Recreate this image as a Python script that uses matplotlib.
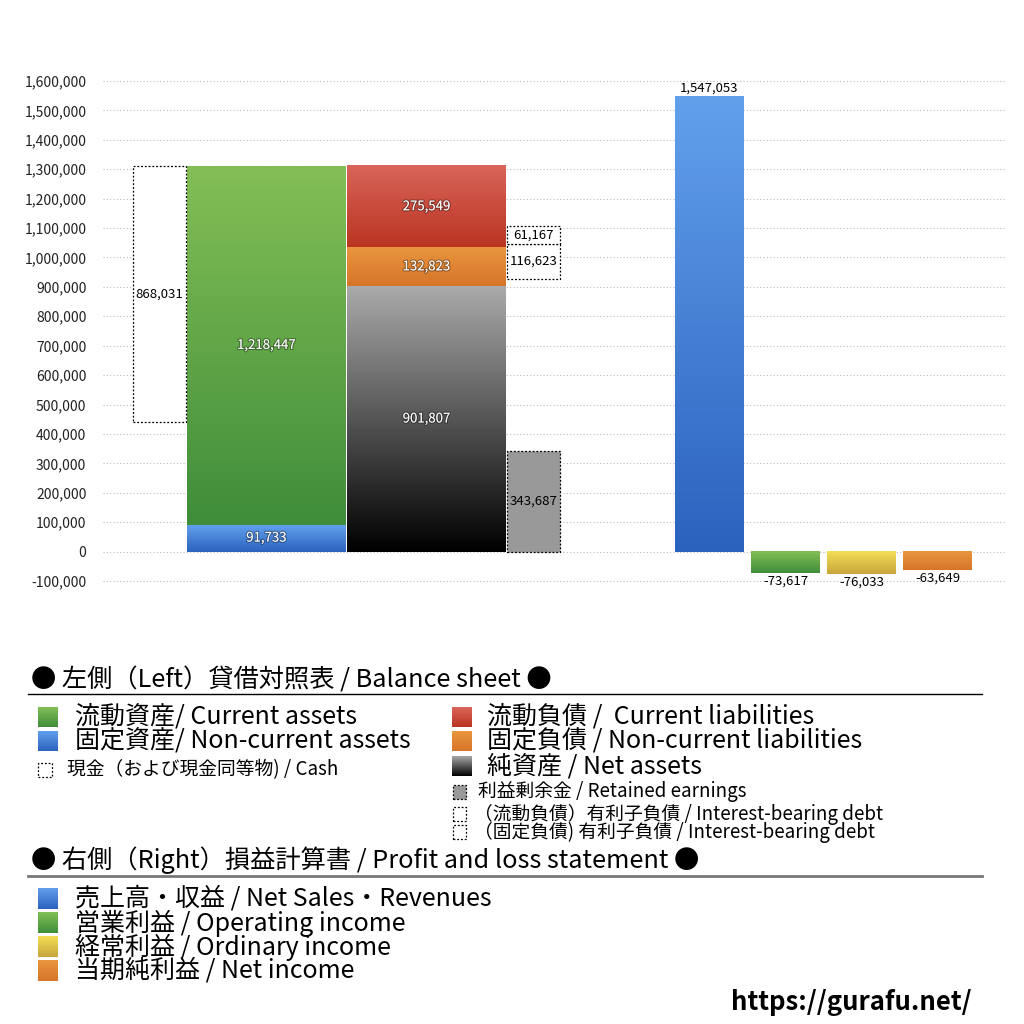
import matplotlib.pyplot as plt
import matplotlib.patheffects as pe
from matplotlib.patches import Rectangle
from matplotlib.colors import to_rgb
import numpy as np

plt.rcParams['font.family'] = ['Noto Sans CJK JP', 'DejaVu Sans']

# --------------------------------------------------
# DATA
# --------------------------------------------------

current_assets = 1218447
noncurrent_assets = 91733
cash = 868031
current_liab = 275549
noncurrent_liab = 132823
net_assets = 901807
retained_earnings = 343687
debt_current = 61167
debt_noncurrent = 116623

pl_values = [1547053, -73617, -76033, -63649]
y_ticks = list(range(-100000, 1600001, 100000))

header_bs = '● 左側（Left）貸借対照表 / Balance sheet ●'
bs_col1 = ['流動資産/ Current assets', '固定資産/ Non-current assets']
cash_label = '現金（および現金同等物) / Cash'
bs_col2 = ['流動負債 /  Current liabilities', '固定負債 / Non-current liabilities',
           '純資産 / Net assets']
bs_small = ['利益剰余金 / Retained earnings',
            '（流動負債）有利子負債 / Interest-bearing debt',
            '（固定負債) 有利子負債 / Interest-bearing debt']
header_pl = '● 右側（Right）損益計算書 / Profit and loss statement ●'
pl_labels = ['売上高・収益 / Net Sales・Revenues', '営業利益 / Operating income',
             '経常利益 / Ordinary income', '当期純利益 / Net income']
site = 'https://gurafu.net/'

# --------------------------------------------------
# STYLE (gradient top, bottom)
# --------------------------------------------------

c_green = ('#84bf56', '#3f8d3a')
c_blue = ('#62a0ec', '#2b62be')
c_red = ('#d9655a', '#ba3421')
c_orange = ('#e9963f', '#d6752a')
c_gray = ('#aaaaaa', '#000000')
c_yellow = ('#f3df56', '#c8a53c')
c_retained = '#999999'
pl_colors = [c_blue, c_green, c_yellow, c_orange]

DOT = (0, (1.5, 1.5))


def grad(ax, x0, x1, y0, y1, colors, z=2):
    top, bot = np.array(to_rgb(colors[0])), np.array(to_rgb(colors[1]))
    t = np.linspace(0, 1, 256)[:, None, None]
    img = bot + (top - bot) * t
    ax.imshow(img, extent=(x0, x1, y0, y1), origin='lower', aspect='auto',
              interpolation='bilinear', zorder=z)


def dashed_box(ax, x0, x1, y0, y1, face='white', z=3):
    ax.add_patch(Rectangle((x0, y0), x1 - x0, y1 - y0, facecolor=face,
                           edgecolor='black', lw=0.9, linestyle=DOT, zorder=z))


shadow = [pe.withStroke(linewidth=1.6, foreground=(0, 0, 0, 0.35))]

fig = plt.figure(figsize=(10.24, 10.24), dpi=100)

# --------------------------------------------------
# OVERLAY (legend, pixel coords)
# --------------------------------------------------

ov = fig.add_axes([0, 0, 1, 1])
ov.axis('off')

big = 18
head = 18.2
small = 13.5
ov.text(31, 680, header_bs, fontsize=head, va='center', ha='left')
ov.plot([28, 982], [694, 694], color='black', lw=1)

for i, (lab, col) in enumerate(zip(bs_col1, [c_green, c_blue])):
    yc = 717 + 24 * i
    grad(ov, 38, 58, yc + 10, yc - 10, col)
    ov.text(75, yc, lab, fontsize=big, va='center')
dashed_box(ov, 38, 52, 777, 763)
ov.text(67, 770, cash_label, fontsize=small, va='center')

for i, (lab, col) in enumerate(zip(bs_col2, [c_red, c_orange, c_gray])):
    yc = 717 + 24.5 * i
    grad(ov, 452, 472, yc + 10, yc - 10, col)
    ov.text(487, yc, lab, fontsize=big, va='center')

dashed_box(ov, 453, 466, 799, 785, face=c_retained)
for i, lab in enumerate(bs_small):
    yc = [792, 814, 832][i]
    if i > 0:
        dashed_box(ov, 453, 466, yc + 7, yc - 7)
    ov.text(474 if i > 0 else 478, yc, lab, fontsize=small, va='center')

ov.text(31, 860, header_pl, fontsize=head, va='center', ha='left')
ov.plot([28, 982], [876, 876], color='#777777', lw=2)

for i, (lab, col) in enumerate(zip(pl_labels, pl_colors)):
    yc = 899 + 24 * i
    grad(ov, 38, 58, yc + 10.5, yc - 10.5, col)
    ov.text(75, yc, lab, fontsize=big, va='center')

ov.text(972, 1003, site, fontsize=18.5, fontweight='bold', ha='right', va='center')

ov.set_xlim(0, 1024)
ov.set_ylim(1024, 0)

# --------------------------------------------------
# MAIN CHART (x in pixel units)
# --------------------------------------------------

ymin, ymax = -110000, 1620000
s = 500 / 1700000.0
px_top = 81 - (ymax - 1600000) * s
px_bot = 581 + (-100000 - ymin) * s
ax = fig.add_axes([103 / 1024, 1 - px_bot / 1024, 902 / 1024, (px_bot - px_top) / 1024])
ax.set_facecolor('none')

x_cash = (133, 186)
x_assets = (187, 346)
x_liab = (347, 506)
x_side = (507, 560)
pl_x0, pl_w, pl_step = 675, 69, 76
debt_base = 928000
vfs = 9.5

total_assets = current_assets + noncurrent_assets

# cash box
cash_bot = total_assets - cash
dashed_box(ax, x_cash[0], x_cash[1], cash_bot, total_assets)
ax.text(sum(x_cash) / 2, cash_bot + cash / 2, f'{cash:,}', ha='center', va='center',
        fontsize=vfs, zorder=5)

# assets stack
grad(ax, *x_assets, 0, noncurrent_assets, c_blue)
grad(ax, *x_assets, noncurrent_assets, total_assets, c_green)
ax.text(sum(x_assets) / 2, noncurrent_assets / 2, f'{noncurrent_assets:,}', ha='center',
        va='center', color='white', fontsize=vfs, path_effects=shadow, zorder=5)
ax.text(sum(x_assets) / 2, noncurrent_assets + current_assets / 2, f'{current_assets:,}',
        ha='center', va='center', color='white', fontsize=vfs, path_effects=shadow, zorder=5)

# liabilities + net assets stack
stack = [(net_assets, c_gray), (noncurrent_liab, c_orange), (current_liab, c_red)]
base = 0
for val, col in stack:
    grad(ax, *x_liab, base, base + val, col)
    ax.text(sum(x_liab) / 2, base + val / 2, f'{val:,}', ha='center', va='center',
            color='white', fontsize=vfs, path_effects=shadow, zorder=5)
    base += val

# retained earnings
dashed_box(ax, *x_side, 0, retained_earnings, face=c_retained)
ax.text(sum(x_side) / 2, retained_earnings / 2, f'{retained_earnings:,}', ha='center',
        va='center', fontsize=vfs, zorder=5)

# interest-bearing debt
base = debt_base
for val in [debt_noncurrent, debt_current]:
    dashed_box(ax, *x_side, base, base + val)
    ax.text(sum(x_side) / 2, base + val / 2, f'{val:,}', ha='center', va='center',
            fontsize=vfs, zorder=5)
    base += val

# profit and loss
for i, (val, col) in enumerate(zip(pl_values, pl_colors)):
    x0 = pl_x0 + i * pl_step
    grad(ax, x0, x0 + pl_w, min(0, val), max(0, val), col)
    if val >= 0:
        ax.text(x0 + pl_w / 2, val + 6000, f'{val:,}', ha='center', va='bottom', fontsize=vfs)
    else:
        ax.text(x0 + pl_w / 2, val - 5000, f'{val:,}', ha='center', va='top', fontsize=vfs)

ax.set_xlim(103, 1005)
ax.set_ylim(ymin, ymax)
ax.set_yticks(y_ticks)
ax.set_yticklabels([f'{v:,}' for v in y_ticks])
ax.set_xticks([])
ax.tick_params(axis='y', length=0, pad=12, labelsize=10, labelcolor='#222222')
ax.yaxis.grid(True, linestyle=(0, (1, 2)), color='#bbbbbb', lw=0.8, zorder=0)
ax.set_axisbelow(True)
for sp in ax.spines.values():
    sp.set_visible(False)

fig.savefig('out.png', dpi=100, facecolor='white')
